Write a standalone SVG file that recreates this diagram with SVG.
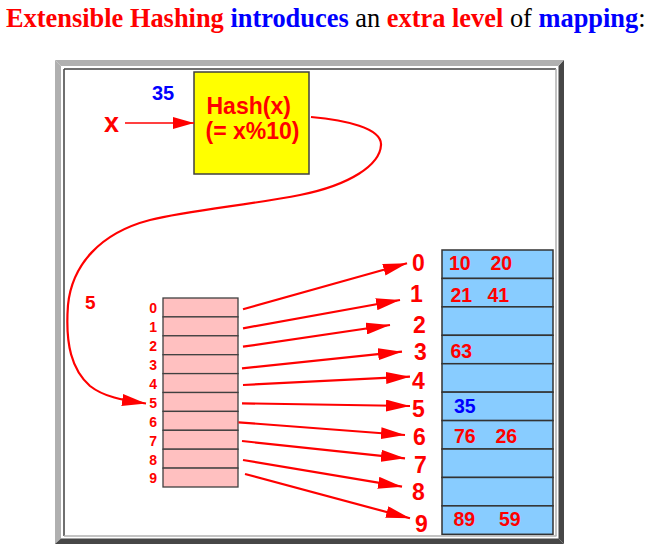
<svg xmlns="http://www.w3.org/2000/svg" width="668" height="559" viewBox="0 0 668 559">
<defs>
<style>
.t{font-family:"Liberation Serif","Times New Roman",serif;font-size:26.4px}
.b{font-weight:bold}
.s{font-family:"Liberation Sans",Arial,Helvetica,sans-serif;font-weight:bold}
.red{fill:#ff0000}
.blue{fill:#0000ff}
.blk{fill:#000000}
.idx{font-size:14px;text-anchor:end}
.lbl{font-size:23px}
.val{font-size:19.5px}
.dir{fill:#ffc0c0;stroke:#404040;stroke-width:1.3}
.bkt{fill:#88ccff;stroke:#333333;stroke-width:1.5}
.con{fill:none;stroke:#ff0000;stroke-width:2.2}
</style>
<marker id="ah" viewBox="0 0 24 12" refX="24" refY="6" markerWidth="24" markerHeight="12" markerUnits="userSpaceOnUse" orient="auto">
<path d="M0,0 L24,6 L0,12 z" fill="#ff0000"/>
</marker>
<marker id="ahs" viewBox="0 0 21 12" refX="21" refY="6" markerWidth="21" markerHeight="12" markerUnits="userSpaceOnUse" orient="auto">
<path d="M0,0 L21,6 L0,12 z" fill="#ff0000"/>
</marker>
</defs>
<rect x="0" y="0" width="668" height="559" fill="#ffffff"/>
<g id="title">
<text class="t" x="6" y="26.7"><tspan class="b red">Extensible Hashing</tspan> <tspan class="b blue">introduces</tspan><tspan class="blk"> an </tspan><tspan class="b red">extra level</tspan><tspan class="blk"> of </tspan><tspan class="b blue">mapping</tspan><tspan class="blk">:</tspan></text>
</g>
<g id="frame">
<polygon points="55,60 564,60 558,66 61,66" fill="#b0b0b0"/>
<polygon points="55,60 61,66 61,538.5 55,544" fill="#b0b0b0"/>
<polygon points="55,544 61,538.5 558.5,538.5 564,544" fill="#474747"/>
<polygon points="564,60 564,544 558.5,538.5 558.5,66" fill="#474747"/>
<line x1="64" y1="69" x2="556" y2="69" stroke="#404040" stroke-width="1.5"/>
<line x1="64" y1="69" x2="64" y2="536" stroke="#404040" stroke-width="1.5"/>
<line x1="64" y1="536" x2="556.5" y2="536" stroke="#b0b0b0" stroke-width="1.5"/>
<line x1="556" y1="69" x2="556" y2="536" stroke="#b0b0b0" stroke-width="1.5"/>
</g>
<g id="input">
<text class="s blue" x="152" y="100" font-size="20">35</text>
<text class="s red" x="104" y="132" font-size="27">x</text>
</g>
<g id="hash">
<rect x="194" y="72" width="115" height="102" fill="#ffff00" stroke="#404040" stroke-width="1.5"/>
<text class="s red" x="206.5" y="114" font-size="23">Hash(x)</text>
<text class="s red" x="205.5" y="139" font-size="23">(= x%10)</text>
</g>
<g id="hashvalue">
<text class="s red" x="85" y="309" font-size="19">5</text>
</g>
<g id="directory">
<rect class="dir" x="163" y="298" width="75" height="18.9"/>
<rect class="dir" x="163" y="316.9" width="75" height="18.9"/>
<rect class="dir" x="163" y="335.8" width="75" height="18.9"/>
<rect class="dir" x="163" y="354.7" width="75" height="18.9"/>
<rect class="dir" x="163" y="373.6" width="75" height="18.9"/>
<rect class="dir" x="163" y="392.5" width="75" height="18.9"/>
<rect class="dir" x="163" y="411.4" width="75" height="18.9"/>
<rect class="dir" x="163" y="430.3" width="75" height="18.9"/>
<rect class="dir" x="163" y="449.2" width="75" height="18.9"/>
<rect class="dir" x="163" y="468.1" width="75" height="18.9"/>
<text class="s red idx" x="157" y="313.3">0</text>
<text class="s red idx" x="157" y="332.2">1</text>
<text class="s red idx" x="157" y="351.1">2</text>
<text class="s red idx" x="157" y="370">3</text>
<text class="s red idx" x="157" y="388.9">4</text>
<text class="s red idx" x="157" y="407.8">5</text>
<text class="s red idx" x="157" y="426.7">6</text>
<text class="s red idx" x="157" y="445.6">7</text>
<text class="s red idx" x="157" y="464.5">8</text>
<text class="s red idx" x="157" y="483.4">9</text>
</g>
<g id="bucket-labels">
<text class="s red lbl" x="412" y="271">0</text>
<text class="s red lbl" x="410" y="302">1</text>
<text class="s red lbl" x="413" y="332.5">2</text>
<text class="s red lbl" x="414" y="360">3</text>
<text class="s red lbl" x="412" y="389">4</text>
<text class="s red lbl" x="412" y="416.5">5</text>
<text class="s red lbl" x="413" y="445">6</text>
<text class="s red lbl" x="414" y="473">7</text>
<text class="s red lbl" x="412" y="500">8</text>
<text class="s red lbl" x="415" y="531.5">9</text>
</g>
<g id="buckets">
<rect class="bkt" x="442" y="250" width="111" height="28.43"/>
<rect class="bkt" x="442" y="278.43" width="111" height="28.43"/>
<rect class="bkt" x="442" y="306.86" width="111" height="28.43"/>
<rect class="bkt" x="442" y="335.29" width="111" height="28.43"/>
<rect class="bkt" x="442" y="363.72" width="111" height="28.43"/>
<rect class="bkt" x="442" y="392.15" width="111" height="28.43"/>
<rect class="bkt" x="442" y="420.58" width="111" height="28.43"/>
<rect class="bkt" x="442" y="449.01" width="111" height="28.43"/>
<rect class="bkt" x="442" y="477.44" width="111" height="28.43"/>
<rect class="bkt" x="442" y="505.87" width="111" height="28.43"/>
<text class="s red val" x="449" y="270">10</text>
<text class="s red val" x="490.5" y="270">20</text>
<text class="s red val" x="450.5" y="301.5">21</text>
<text class="s red val" x="487.5" y="301.5">41</text>
<text class="s red val" x="450.5" y="358.3">63</text>
<text class="s blue val" x="454" y="413.3">35</text>
<text class="s red val" x="454" y="443.3">76</text>
<text class="s red val" x="495.5" y="443.3">26</text>
<text class="s red val" x="453.5" y="525.7">89</text>
<text class="s red val" x="499" y="525.7">59</text>
</g>
<g id="connectors">
<line x1="125" y1="123" x2="194" y2="123" stroke="#ff0000" stroke-width="1.5" marker-end="url(#ahs)"/>
<path class="con" d="M311,117 C345,120 382,128 381,145 C380,165 350,185 300,195 C250,205 190,210 150,220 C100,233 72,265 68,305 C65,345 72,370 90,386 C104,397 122,400 146,403.5" marker-end="url(#ah)"/>
<line class="con" x1="243" y1="309.3" x2="407" y2="263.3" marker-end="url(#ah)"/>
<line class="con" x1="243" y1="328.3" x2="400" y2="300" marker-end="url(#ah)"/>
<line class="con" x1="243" y1="346.7" x2="390" y2="325" marker-end="url(#ah)"/>
<line class="con" x1="242" y1="368.3" x2="402" y2="351.7" marker-end="url(#ah)"/>
<line class="con" x1="243" y1="385" x2="410" y2="376.7" marker-end="url(#ah)"/>
<line class="con" x1="242" y1="403.3" x2="410" y2="406" marker-end="url(#ah)"/>
<line class="con" x1="238.5" y1="422.3" x2="405" y2="435" marker-end="url(#ah)"/>
<line class="con" x1="242" y1="441" x2="405" y2="458.3" marker-end="url(#ah)"/>
<line class="con" x1="243" y1="460" x2="402" y2="486.7" marker-end="url(#ah)"/>
<line class="con" x1="245" y1="474" x2="410" y2="518.3" marker-end="url(#ah)"/>
</g>
</svg>
